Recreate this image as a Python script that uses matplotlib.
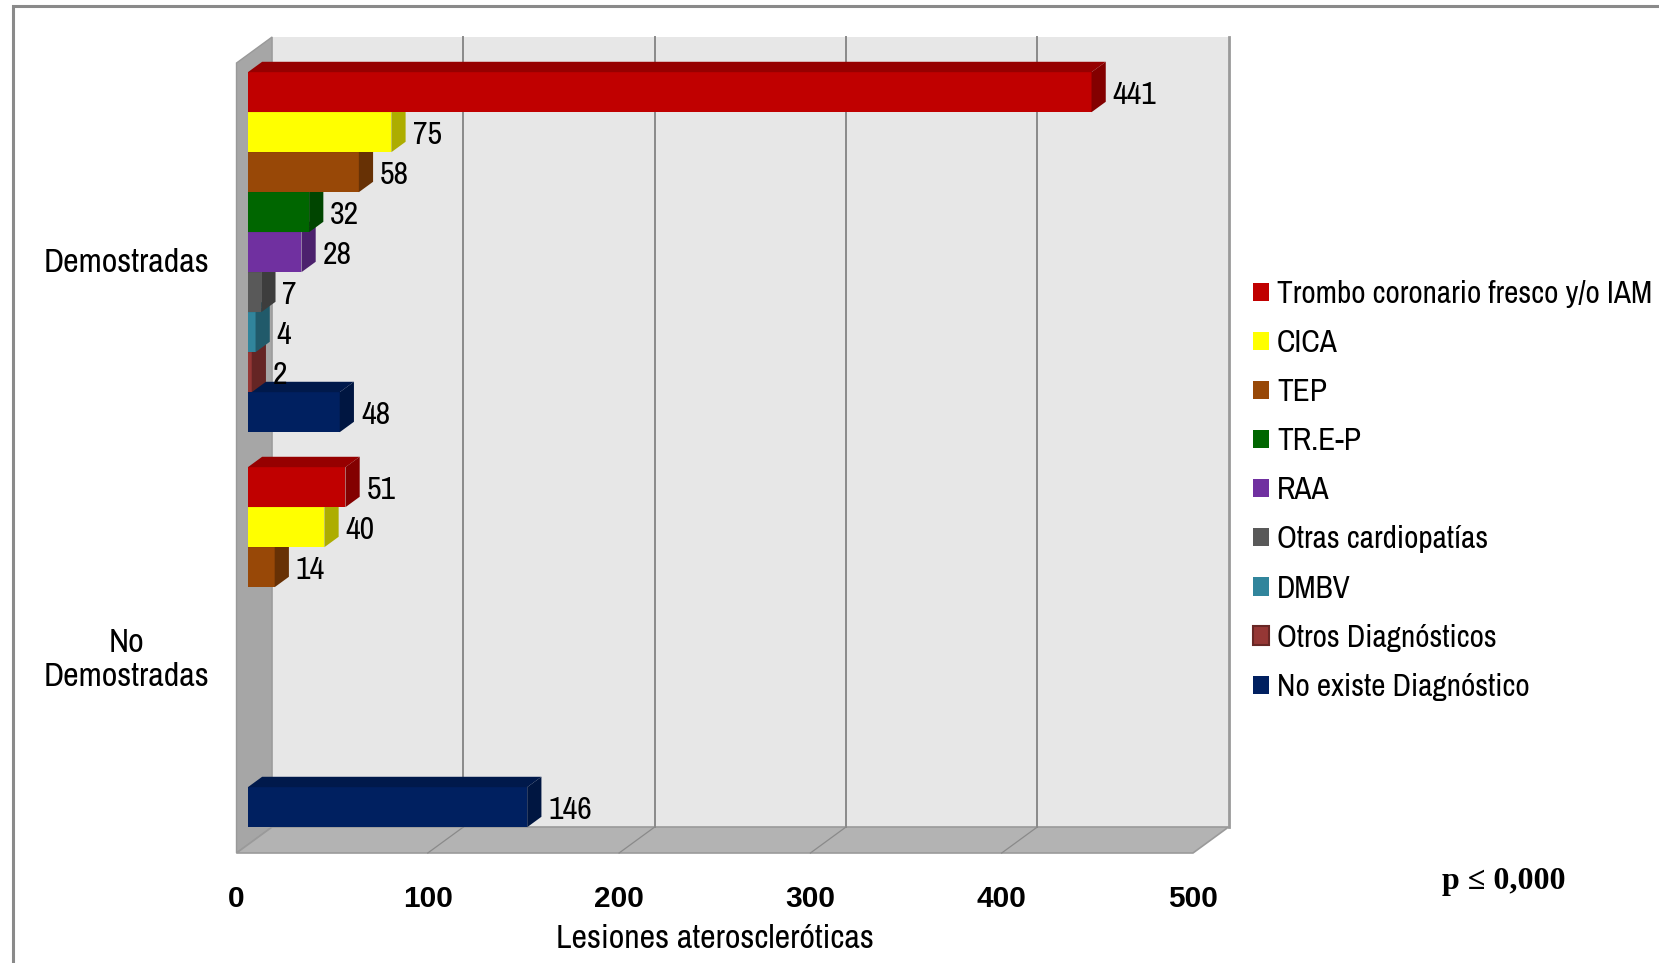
"""Horizontal 3D-style bar chart: atherosclerotic lesions by diagnosis group."""

import matplotlib

matplotlib.use("Agg")
import matplotlib.pyplot as plt
from matplotlib import colors as mcolors
from matplotlib.patches import Patch, Polygon, Rectangle

NARROW = ["Archivo Narrow", "DejaVu Sans"]
plt.rcParams["font.family"] = NARROW

categories = ["Demostradas", "No\nDemostradas"]
series = [
    "Trombo coronario fresco y/o IAM",
    "CICA",
    "TEP",
    "TR.E-P",
    "RAA",
    "Otras cardiopatías",
    "DMBV",
    "Otros Diagnósticos",
    "No existe Diagnóstico",
]
demostradas = [441, 75, 58, 32, 28, 7, 4, 2, 48]
no_demostradas = [51, 40, 14, 0, 0, 0, 0, 0, 146]
series_colors = [
    "#C00000", "#FFFF00", "#984807", "#006600", "#7030A0",
    "#595959", "#31859C", "#953735", "#002060",
]
x_ticks = [0, 100, 200, 300, 400, 500]

values = [demostradas, no_demostradas]

# depth vector of the 3D box (data units) and the depth band the bars occupy
DX, DY = 18.6, -0.65
FRONT, BACK = 0.32, 0.72
BAR_H = 1.0
GAP = 0.875
GROUP_SPAN = len(series) * BAR_H + GAP
Y_MAX = GROUP_SPAN * len(categories)
X_MAX = x_ticks[-1]

WALL = "#e7e7e7"
SIDE = "#a6a6a6"
FLOOR = "#b3b3b3"
GRID = "#8a8a8a"


def shade(color, factor):
    r, g, b = mcolors.to_rgb(color)
    return (r * factor, g * factor, b * factor)


fig = plt.figure(figsize=(16.59, 9.63), dpi=100)
ax = fig.add_axes([0.14256, 0.11423, 0.57655, 0.82035])
ax.set_xlim(0, X_MAX)
ax.set_ylim(Y_MAX, 0)
ax.patch.set_visible(False)
for spine in ax.spines.values():
    spine.set_visible(False)

# outer frame (only top and left edges fall inside the canvas)
fig.add_artist(
    Rectangle((13 / 1659, -0.1), 1.2, 1.1 - 6 / 963, transform=fig.transFigure,
              fill=False, edgecolor="#8a8a8a", linewidth=2.2)
)

# back wall, left side wall and floor
ax.add_patch(Polygon([(DX, DY), (X_MAX + DX, DY), (X_MAX + DX, Y_MAX + DY), (DX, Y_MAX + DY)],
                     closed=True, facecolor=WALL, edgecolor="none", zorder=0, clip_on=False))
ax.plot([X_MAX + DX, X_MAX + DX], [DY, Y_MAX + DY], color="#9a9a9a", lw=2.0,
        zorder=1, clip_on=False)
ax.add_patch(Polygon([(0, 0), (DX, DY), (DX, Y_MAX + DY), (0, Y_MAX)],
                     closed=True, facecolor=SIDE, edgecolor="#999999", lw=1.0,
                     zorder=1, clip_on=False))
ax.add_patch(Polygon([(0, Y_MAX), (X_MAX, Y_MAX), (X_MAX + DX, Y_MAX + DY), (DX, Y_MAX + DY)],
                     closed=True, facecolor=FLOOR, edgecolor="#9a9a9a", lw=1.2,
                     zorder=1, clip_on=False))
for t in x_ticks[1:-1]:
    ax.plot([t + DX, t + DX], [DY, Y_MAX + DY], color=GRID, lw=1.4, zorder=1, clip_on=False)
    ax.plot([t, t + DX], [Y_MAX, Y_MAX + DY], color=GRID, lw=0.9, zorder=2, clip_on=False)

# bars, painted from the bottom slot upwards so upper bars hide lower top faces
fx, fy = FRONT * DX, FRONT * DY
bx, by = BACK * DX, BACK * DY
slots = []
for g, group in enumerate(values):
    for i, v in enumerate(group):
        top = g * GROUP_SPAN + GAP / 2 + i * BAR_H
        slots.append((top, v, series_colors[i]))

for rank, (top, v, color) in enumerate(sorted(slots, key=lambda s: -s[0])):
    if v <= 0:
        continue
    z = 5 + rank
    bot = top + BAR_H
    ax.barh(top + BAR_H / 2 + fy, v, left=fx, height=BAR_H, color=color,
            edgecolor="none", zorder=z, clip_on=False)
    ax.add_patch(Polygon([(fx, top + fy), (fx + v, top + fy), (bx + v, top + by), (bx, top + by)],
                         closed=True, facecolor=shade(color, 0.78), edgecolor="none",
                         zorder=z, clip_on=False))
    ax.add_patch(Polygon([(fx + v, top + fy), (bx + v, top + by), (bx + v, bot + by), (fx + v, bot + fy)],
                         closed=True, facecolor=shade(color, 0.68), edgecolor="none",
                         zorder=z, clip_on=False))
    ax.annotate(f"{v}", xy=(bx + v, top + BAR_H / 2 + fy), xytext=(5, 0),
                textcoords="offset points", ha="left", va="center_baseline",
                fontsize=23, color="black", zorder=100, annotation_clip=False)

# axes labels and ticks
ax.set_xticks(x_ticks)
ax.set_xticklabels([str(t) for t in x_ticks], fontsize=21.5, fontweight="bold",
                   family=["Liberation Sans", "DejaVu Sans"])
ax.tick_params(axis="x", length=0, pad=23)
ax.set_yticks([GROUP_SPAN * (g + 0.5) for g in range(len(categories))])
ax.set_yticklabels(categories, fontsize=24.5, linespacing=1.15)
for lbl in ax.get_yticklabels():
    lbl.set_horizontalalignment("center")
    lbl.set_multialignment("center")
ax.tick_params(axis="y", length=0, pad=79)
ax.set_xlabel("Lesiones ateroscleróticas", fontsize=24.5, labelpad=8)

handles = [Patch(facecolor=c, edgecolor=shade(c, 0.7) if n == "Otros Diagnósticos" else c,
                 linewidth=1.5 if n == "Otros Diagnósticos" else 0)
           for n, c in zip(series, series_colors)]
fig.legend(handles, series, loc="upper left", bbox_to_anchor=(1253 / 1659, 1 - 280 / 963),
           frameon=False, fontsize=22.5, handlelength=0.52, handleheight=0.52,
           handletextpad=0.25, labelspacing=0.675, borderaxespad=0, borderpad=0)

fig.text(1504 / 1659, 1 - 881 / 963, "p ≤ 0,000", ha="center", va="center",
         fontsize=23, fontweight="bold", family=["Liberation Serif", "DejaVu Serif"])

fig.savefig("out.png", dpi=100, facecolor="white")
